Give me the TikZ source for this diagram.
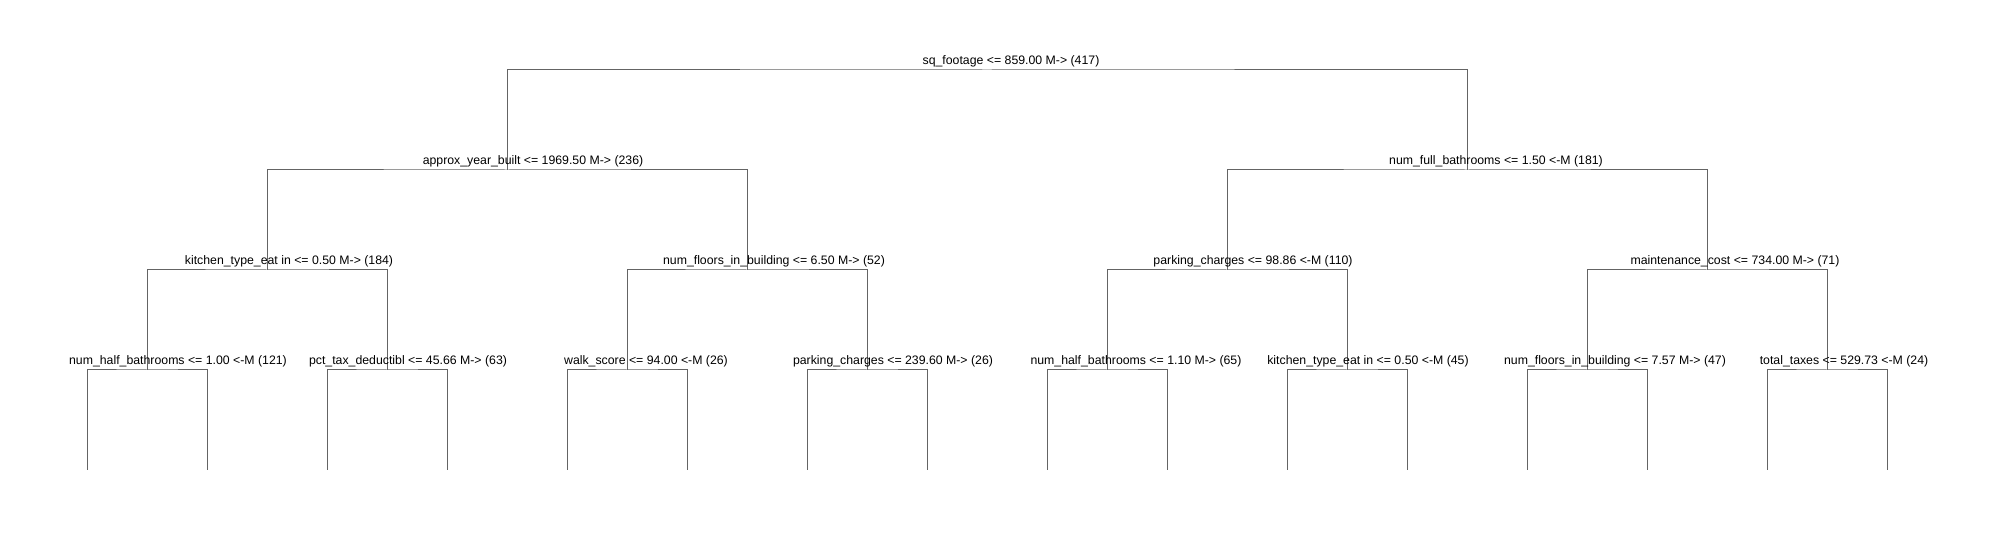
\documentclass[tikz,border=0pt]{standalone}
\usepackage{fontspec}
\setmainfont{Liberation Sans}
\definecolor{branchgray}{RGB}{100,100,100}

\begin{document}
\begin{tikzpicture}[x=0.02cm, y=-0.02cm]

    % --- Styles ---
    \tikzset{
        branch/.style={draw=branchgray, line width=0.57pt},
        splitlabel/.style={anchor=base, inner sep=0pt, font=\fontsize{7}{8}\selectfont}
    }

    \useasboundingbox (0,0) rectangle (1995,540);

    % --- Split points ---
    \coordinate (n) at (987,70);
    \coordinate (nL) at (507,170);
    \coordinate (nR) at (1467,170);
    \coordinate (nLL) at (267,270);
    \coordinate (nLR) at (747,270);
    \coordinate (nRL) at (1227,270);
    \coordinate (nRR) at (1707,270);
    \coordinate (nLLL) at (147,370);
    \coordinate (nLLR) at (387,370);
    \coordinate (nLRL) at (627,370);
    \coordinate (nLRR) at (867,370);
    \coordinate (nRLL) at (1107,370);
    \coordinate (nRLR) at (1347,370);
    \coordinate (nRRL) at (1587,370);
    \coordinate (nRRR) at (1827,370);

    % --- Leaves ---
    \coordinate (lf1) at (87,470);
    \coordinate (lf2) at (207,470);
    \coordinate (lf3) at (327,470);
    \coordinate (lf4) at (447,470);
    \coordinate (lf5) at (567,470);
    \coordinate (lf6) at (687,470);
    \coordinate (lf7) at (807,470);
    \coordinate (lf8) at (927,470);
    \coordinate (lf9) at (1047,470);
    \coordinate (lf10) at (1167,470);
    \coordinate (lf11) at (1287,470);
    \coordinate (lf12) at (1407,470);
    \coordinate (lf13) at (1527,470);
    \coordinate (lf14) at (1647,470);
    \coordinate (lf15) at (1767,470);
    \coordinate (lf16) at (1887,470);

    % --- Branches ---
    \draw[branch] (nL) |- (n) -| (nR);
    \draw[branch] (nLL) |- (nL) -| (nLR);
    \draw[branch] (nRL) |- (nR) -| (nRR);
    \draw[branch] (nLLL) |- (nLL) -| (nLLR);
    \draw[branch] (nLRL) |- (nLR) -| (nLRR);
    \draw[branch] (nRLL) |- (nRL) -| (nRLR);
    \draw[branch] (nRRL) |- (nRR) -| (nRRR);
    \draw[branch] (lf1) |- (nLLL) -| (lf2);
    \draw[branch] (lf3) |- (nLLR) -| (lf4);
    \draw[branch] (lf5) |- (nLRL) -| (lf6);
    \draw[branch] (lf7) |- (nLRR) -| (lf8);
    \draw[branch] (lf9) |- (nRLL) -| (lf10);
    \draw[branch] (lf11) |- (nRLR) -| (lf12);
    \draw[branch] (lf13) |- (nRRL) -| (lf14);
    \draw[branch] (lf15) |- (nRRR) -| (lf16);

    % --- Split labels ---
    \node[splitlabel] (tn) at (1011,64.5) {sq\_footage <= 859.00 M-> (417)};
    \node[splitlabel] (tL) at (533,164.5) {approx\_year\_built <= 1969.50 M-> (236)};
    \node[splitlabel] (tR) at (1496,164.5) {num\_full\_bathrooms <= 1.50 <-M (181)};
    \node[splitlabel] (tLL) at (289,264.5) {kitchen\_type\_eat in <= 0.50 M-> (184)};
    \node[splitlabel] (tLR) at (774,264.5) {num\_floors\_in\_building <= 6.50 M-> (52)};
    \node[splitlabel] (tRL) at (1253,264.5) {parking\_charges <= 98.86 <-M (110)};
    \node[splitlabel] (tRR) at (1735,264.5) {maintenance\_cost <= 734.00 M-> (71)};
    \node[splitlabel] (tLLL) at (178,364.5) {num\_half\_bathrooms <= 1.00 <-M (121)};
    \node[splitlabel] (tLLR) at (408,364.5) {pct\_tax\_deductibl <= 45.66 M-> (63)};
    \node[splitlabel] (tLRL) at (646,364.5) {walk\_score <= 94.00 <-M (26)};
    \node[splitlabel] (tLRR) at (893,364.5) {parking\_charges <= 239.60 M-> (26)};
    \node[splitlabel] (tRLL) at (1136,364.5) {num\_half\_bathrooms <= 1.10 M-> (65)};
    \node[splitlabel] (tRLR) at (1368,364.5) {kitchen\_type\_eat in <= 0.50 <-M (45)};
    \node[splitlabel] (tRRL) at (1615,364.5) {num\_floors\_in\_building <= 7.57 M-> (47)};
    \node[splitlabel] (tRRR) at (1844,364.5) {total\_taxes <= 529.73 <-M (24)};

\end{tikzpicture}
\end{document}
